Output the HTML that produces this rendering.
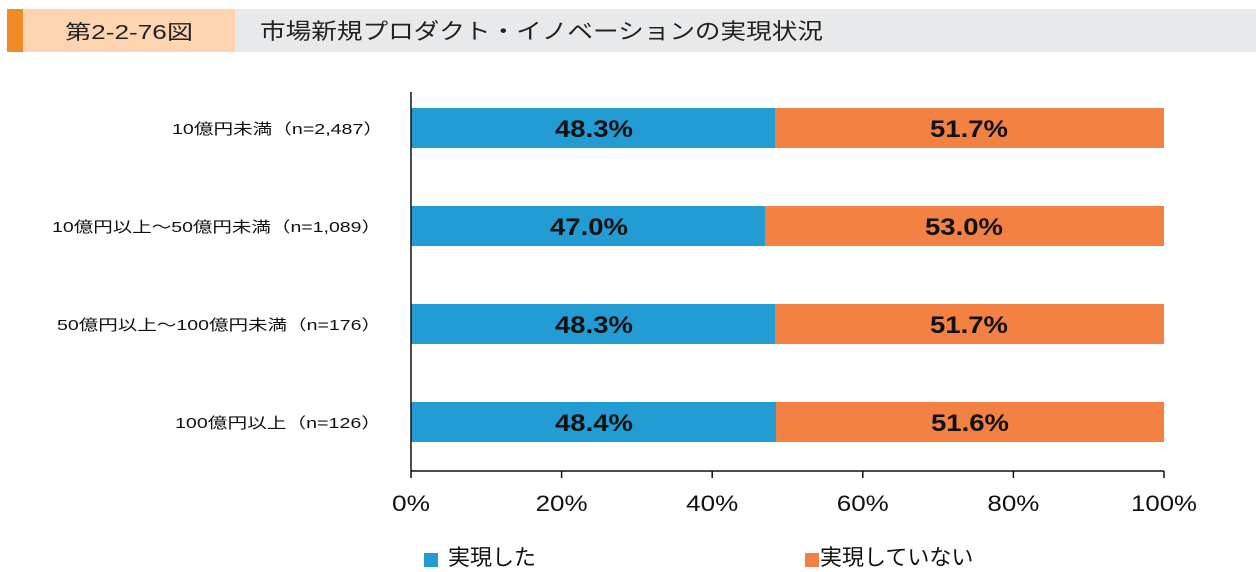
<!DOCTYPE html>
<html><head><meta charset="utf-8"><style>
body{margin:0;width:1256px;height:567px;background:#fff;overflow:hidden;font-family:"Liberation Sans","Noto Sans CJK JP",sans-serif}
</style></head><body>
<svg width="1256" height="567" xmlns="http://www.w3.org/2000/svg" font-family="Liberation Sans, Noto Sans CJK JP, sans-serif">
<rect x="7" y="9" width="1249" height="43" fill="#e8e9eb"/>
<rect x="7" y="9" width="228" height="43" fill="#fdd4b0"/>
<rect x="7" y="9" width="16" height="43" fill="#f08a24"/>
<text x="65" y="39" font-size="20" fill="#222" textLength="128" lengthAdjust="spacingAndGlyphs">第2-2-76図</text>
<text x="260" y="39" font-size="22" fill="#222" textLength="563" lengthAdjust="spacingAndGlyphs">市場新規プロダクト・イノベーションの実現状況</text>
<g font-size="15" fill="#111">
<text x="172" y="134" textLength="211" lengthAdjust="spacingAndGlyphs">10億円未満（n=2,487）</text>
<text x="52" y="232" textLength="329" lengthAdjust="spacingAndGlyphs">10億円以上～50億円未満（n=1,089）</text>
<text x="57" y="330" textLength="324" lengthAdjust="spacingAndGlyphs">50億円以上～100億円未満（n=176）</text>
<text x="175" y="428" textLength="206" lengthAdjust="spacingAndGlyphs">100億円以上（n=126）</text>
</g>
<g>
<rect x="411" y="108" width="364" height="40" fill="#229cd3"/><rect x="775" y="108" width="389" height="40" fill="#f38143"/>
<rect x="411" y="206" width="354" height="40" fill="#229cd3"/><rect x="765" y="206" width="399" height="40" fill="#f38143"/>
<rect x="411" y="304" width="364" height="40" fill="#229cd3"/><rect x="775" y="304" width="389" height="40" fill="#f38143"/>
<rect x="411" y="402" width="365" height="40" fill="#229cd3"/><rect x="776" y="402" width="388" height="40" fill="#f38143"/>
</g>
<g font-size="24" font-weight="bold" fill="#111" text-anchor="middle">
<text x="594" y="137" textLength="78" lengthAdjust="spacingAndGlyphs">48.3%</text><text x="969" y="137" textLength="78" lengthAdjust="spacingAndGlyphs">51.7%</text>
<text x="589" y="235" textLength="78" lengthAdjust="spacingAndGlyphs">47.0%</text><text x="964" y="235" textLength="78" lengthAdjust="spacingAndGlyphs">53.0%</text>
<text x="594" y="333" textLength="78" lengthAdjust="spacingAndGlyphs">48.3%</text><text x="969" y="333" textLength="78" lengthAdjust="spacingAndGlyphs">51.7%</text>
<text x="594" y="431" textLength="78" lengthAdjust="spacingAndGlyphs">48.4%</text><text x="970" y="431" textLength="78" lengthAdjust="spacingAndGlyphs">51.6%</text>
</g>
<g stroke="#111" stroke-width="1.5">
<line x1="411" y1="92" x2="411" y2="478"/>
<line x1="411" y1="471" x2="1164" y2="471"/>
<line x1="561.6" y1="471" x2="561.6" y2="478"/><line x1="712.2" y1="471" x2="712.2" y2="478"/>
<line x1="862.8" y1="471" x2="862.8" y2="478"/><line x1="1013.4" y1="471" x2="1013.4" y2="478"/>
<line x1="1164" y1="471" x2="1164" y2="478"/>
</g>
<g font-size="22" fill="#111" text-anchor="middle">
<text x="411" y="511" textLength="38" lengthAdjust="spacingAndGlyphs">0%</text>
<text x="561.6" y="511" textLength="52" lengthAdjust="spacingAndGlyphs">20%</text>
<text x="712.2" y="511" textLength="52" lengthAdjust="spacingAndGlyphs">40%</text>
<text x="862.8" y="511" textLength="52" lengthAdjust="spacingAndGlyphs">60%</text>
<text x="1013.4" y="511" textLength="52" lengthAdjust="spacingAndGlyphs">80%</text>
<text x="1164" y="511" textLength="66" lengthAdjust="spacingAndGlyphs">100%</text>
</g>
<rect x="424" y="553" width="14" height="14" fill="#229cd3"/>
<text x="448" y="565" font-size="22" fill="#111">実現した</text>
<rect x="805" y="553" width="14" height="14" fill="#f38143"/>
<text x="820" y="565" font-size="22" fill="#111">実現していない</text>
</svg>
</body></html>
